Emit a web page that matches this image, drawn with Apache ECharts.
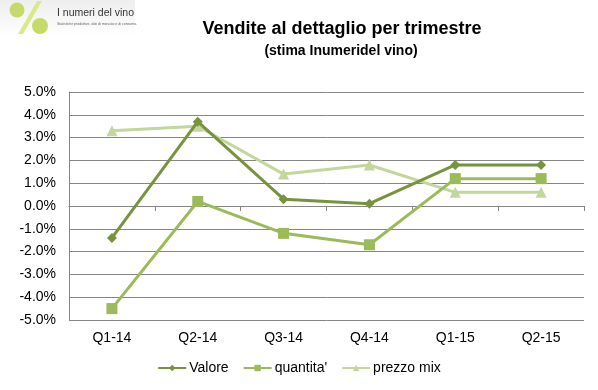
<!DOCTYPE html>
<html><head><meta charset="utf-8">
<script src="https://cdn.jsdelivr.net/npm/echarts@6/dist/echarts.min.js"></script>
<style>html,body{margin:0;padding:0;background:#fff}#c{width:598px;height:390px}</style>
</head><body><div id="c"></div>
<script>
const categories = ['Q1-14','Q2-14','Q3-14','Q4-14','Q1-15','Q2-15'];
const valore = [-1.4, 3.7, 0.3, 0.1, 1.8, 1.8];
const quantita = [-4.5, 0.2, -1.2, -1.7, 1.2, 1.2];
const prezzoMix = [3.3, 3.5, 1.4, 1.8, 0.6, 0.6];
const seriesNames = ['Valore', "quantita'", 'prezzo mix'];
const yTicks = {min: -5, max: 5, interval: 1};

const chart = echarts.init(document.getElementById('c'));
const F = 'Liberation Sans, Arial, sans-serif';
const option = {
  animation: false,
  backgroundColor: '#fff',
  title: [
    {text: 'Vendite al dettaglio per trimestre', left: 337, textAlign: 'center', top: 15,
     textStyle: {fontFamily: F, fontSize: 18, fontWeight: 'bold', color: '#000'}},
    {text: '(stima Inumeridel vino)', left: 336, textAlign: 'center', top: 39,
     textStyle: {fontFamily: F, fontSize: 14, fontWeight: 'bold', color: '#000'}}
  ],
  graphic: [
    {type: 'rect', shape: {x: 0, y: 0, width: 135, height: 36},
     style: {fill: new echarts.graphic.LinearGradient(0, 0, 0, 1, [{offset: 0, color: '#eeeeee'}, {offset: 1, color: '#ffffff'}])}},
    {type: 'polygon', shape: {points: [[18, 34], [23, 34], [42, 1], [37, 1]]}, style: {fill: '#d9ea8c'}},
    {type: 'circle', shape: {cx: 17, cy: 10, r: 7.5}, style: {fill: '#c5da68'}},
    {type: 'circle', shape: {cx: 40, cy: 26, r: 8}, style: {fill: '#c5da68'}},
    {type: 'text', left: 57, top: 8, style: {text: 'I numeri del vino', fontFamily: 'Liberation Sans', fontSize: 10.5, fill: '#333'}},
    {type: 'text', left: 57, top: 22, style: {text: 'Statistiche produttive, dati di mercato e di consumo.', fontFamily: 'Liberation Sans', fontSize: 3.5, fill: '#666'}}
  ],
  legend: {
    data: seriesNames, bottom: 10, left: 'center', itemWidth: 28, itemHeight: 8, itemGap: 14,
    textStyle: {fontFamily: F, fontSize: 14, color: '#000', padding: [0, 0, 0, -2]}
  },
  grid: {left: 69, right: 14, top: 92, bottom: 70},
  xAxis: [
    {type: 'category', data: categories, boundaryGap: true, position: 'bottom',
     axisLine: {show: false, onZero: false}, axisTick: {show: false},
     axisLabel: {fontFamily: F, fontSize: 14, color: '#000', margin: 11}},
    {type: 'category', data: categories, boundaryGap: true, position: 'bottom', gridIndex: 0,
     axisLine: {show: true, onZero: true, lineStyle: {color: '#868686', width: 1}},
     axisTick: {show: true, length: 5, lineStyle: {color: '#868686'}},
     axisLabel: {show: false}}
  ],
  yAxis: {
    type: 'value', min: yTicks.min, max: yTicks.max, interval: yTicks.interval,
    axisLine: {show: true, lineStyle: {color: '#868686'}}, axisTick: {show: false},
    splitLine: {lineStyle: {color: '#868686', width: 1}},
    axisLabel: {fontFamily: F, fontSize: 14, color: '#000', margin: 13, formatter: v => v.toFixed(1) + '%'}
  },
  series: [
    {name: seriesNames[0], type: 'line', data: valore, xAxisIndex: 0, symbol: 'diamond', symbolSize: 10,
     lineStyle: {color: '#77933C', width: 3}, itemStyle: {color: '#77933C'}, z: 4},
    {name: seriesNames[1], type: 'line', data: quantita, xAxisIndex: 0, symbol: 'rect', symbolSize: 11,
     lineStyle: {color: '#9BBB59', width: 3}, itemStyle: {color: '#9BBB59'}, z: 3},
    {name: seriesNames[2], type: 'line', data: prezzoMix, xAxisIndex: 0, symbol: 'triangle', symbolSize: 11,
     lineStyle: {color: '#C3D69B', width: 3}, itemStyle: {color: '#C3D69B'}, z: 2}
  ]
};
chart.setOption(option);
</script>
</body></html>
